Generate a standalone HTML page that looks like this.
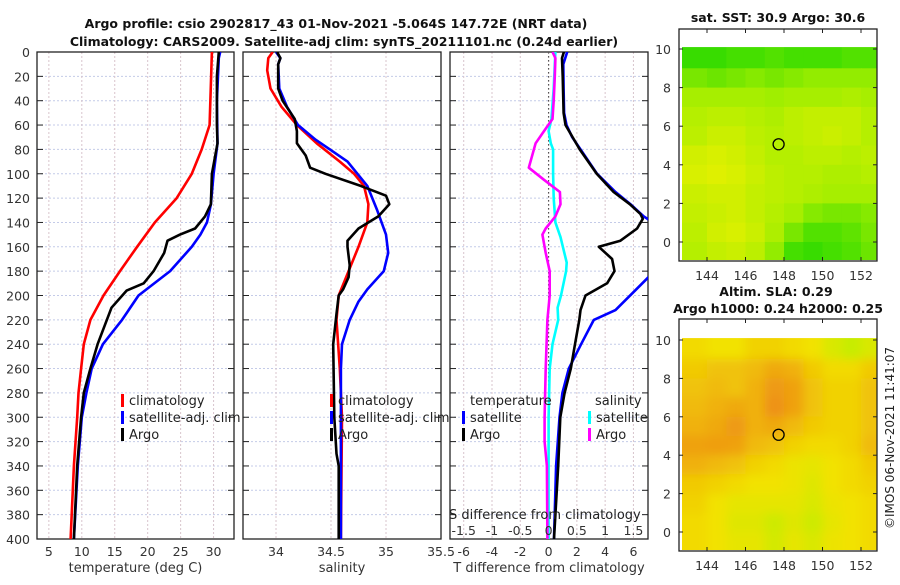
<!DOCTYPE html>
<html><head><meta charset="utf-8"><style>
body{margin:0;background:#fff;width:900px;height:580px;overflow:hidden}
svg{font-family:"DejaVu Sans","Liberation Sans",sans-serif}
</style></head><body>
<svg id="fig" width="900" height="580" viewBox="0 0 900 580" xmlns="http://www.w3.org/2000/svg">
<defs>
<clipPath id="c1"><rect x="37" y="52" width="197" height="487"/></clipPath>
<clipPath id="c2"><rect x="243" y="52" width="198" height="487"/></clipPath>
<clipPath id="c3"><rect x="450" y="52" width="198" height="487"/></clipPath>
<clipPath id="cm1"><rect x="682" y="47" width="195" height="213"/></clipPath>
<clipPath id="cm2"><rect x="682" y="337" width="195" height="213"/></clipPath>
<filter id="bl"><feGaussianBlur stdDeviation="5"/></filter>
</defs>
<g font-weight="bold" font-size="12.5" fill="#111" text-anchor="middle">
<text x="336" y="28">Argo profile: csio 2902817_43 01-Nov-2021 -5.064S 147.72E (NRT data)</text>
<text x="344" y="46">Climatology: CARS2009. Satellite-adj clim: synTS_20211101.nc (0.24d earlier)</text>
<text x="778" y="22">sat. SST: 30.9 Argo: 30.6</text>
<text x="776" y="296">Altim. SLA: 0.29</text>
<text x="778" y="313">Argo h1000: 0.24 h2000: 0.25</text>
</g>
<text transform="translate(894,438) rotate(-90)" text-anchor="middle" font-size="12" fill="#222">©IMOS 06-Nov-2021 11:41:07</text>
<g id="panels"></g>
<g id="maps"></g>
</svg>
<script>
// ---------- profile data ----------
const tClimDepth=[0,60,80,100,120,140,160,180,200,220,240,260,280,300,340,400];
const tClimVal=[29.75,29.4,28.2,26.7,24.4,21.1,18.4,15.8,13.3,11.3,10.3,9.9,9.5,9.3,8.8,8.3];
const tSatDepth=[0,5,40,75,100,125,140,150,160,180,200,220,240,260,280,300,340,400];
const tSatVal=[31.0,30.8,30.5,30.6,30.0,29.6,29.0,28.0,26.7,23.4,18.6,16.1,13.2,11.5,10.7,10.0,9.4,8.8];
const tArgoDepth=[0,20,60,75,100,125,135,145,150,155,165,180,190,196,210,240,260,280,300,340,400];
const tArgoVal=[30.8,30.5,30.5,30.6,29.75,29.6,28.7,27.2,24.9,23.0,22.5,20.9,19.4,16.8,14.5,12.4,11.3,10.3,9.9,9.3,8.8];
const sClimDepth=[0,5,15,30,45,60,75,90,100,110,125,140,160,180,200,220,260,300,400];
const sClimVal=[33.97,33.93,33.92,33.95,34.05,34.19,34.37,34.58,34.71,34.80,34.84,34.83,34.75,34.66,34.57,34.55,34.58,34.60,34.59];
const sSatDepth=[0,5,10,30,45,60,72,80,90,110,130,150,165,180,195,205,220,240,260,400];
const sSatVal=[34.0,34.04,34.02,34.03,34.10,34.20,34.36,34.49,34.65,34.83,34.92,35.0,35.02,34.98,34.83,34.75,34.67,34.60,34.59,34.59];
const sArgoDepth=[0,5,10,30,40,55,65,75,85,95,100,110,118,125,135,145,155,160,175,185,195,200,215,240,300,330,340,400];
const sArgoVal=[34.01,34.04,34.02,34.02,34.06,34.17,34.19,34.19,34.27,34.31,34.45,34.77,35.0,35.03,34.93,34.75,34.65,34.65,34.67,34.66,34.61,34.57,34.55,34.52,34.53,34.55,34.57,34.57];
const dTSatDepth=[0,10,30,50,60,70,80,100,115,125,135,145,160,175,185,212,220,240,260,280,300,340,400];
const dTSatVal=[1.32,1.04,1.06,1.1,1.27,1.67,2.26,3.43,4.73,5.79,6.73,8.0,8.4,7.9,7.06,4.73,3.2,2.3,1.43,0.98,0.77,0.53,0.38];
const dTArgoDepth=[0,5,20,50,60,80,100,115,125,133,137,145,155,160,170,180,190,200,212,220,240,260,280,300,340,400];
const dTArgoVal=[1.08,0.95,1.0,1.06,1.2,2.2,3.4,4.6,5.74,6.49,6.66,6.26,5.08,3.55,4.49,4.66,4.14,2.61,2.26,2.17,1.87,1.57,1.13,0.83,0.68,0.38];
const dSSatDepth=[0,10,30,55,65,75,80,100,120,140,152,173,180,200,210,220,240,260,300,400];
const dSSatVal=[0.12,0.11,0.09,0.05,0.0,0.04,0.08,0.08,0.09,0.12,0.21,0.32,0.31,0.22,0.16,0.17,0.07,0.02,0.0,0.0];
const dSArgoDepth=[0,5,20,40,55,65,75,95,105,115,125,135,145,150,165,180,200,220,260,300,320,340,400];
const dSArgoVal=[0.07,0.12,0.11,0.09,0.07,-0.08,-0.23,-0.35,-0.08,0.2,0.21,0.12,-0.05,-0.11,-0.05,0.02,0.02,-0.02,-0.05,-0.07,-0.07,-0.03,-0.02];
const depthTicks=[0,20,40,60,80,100,120,140,160,180,200,220,240,260,280,300,320,340,360,380,400];
const tTicks=[5,10,15,20,25,30];
const sTicks=[34,34.5,35,35.5];
const dTTicks=[-6,-4,-2,0,2,4,6];
const dSTicks=[-1.5,-1,-0.5,0,0.5,1,1.5];
// ---------- map data (rows lat 10 -> -1, cols lon 143 -> 153) ----------
const mapLonStart=142.85, mapLatTop=10.1;
const sstGrid=[
[0.9,0.9,0.85,0.85,0.8,0.85,0.85,0.85,0.8,0.8],
[0.65,0.7,0.65,0.6,0.65,0.6,0.55,0.55,0.55,0.55],
[0.45,0.45,0.45,0.45,0.5,0.45,0.45,0.45,0.4,0.45],
[0.35,0.3,0.3,0.35,0.4,0.3,0.25,0.25,0.25,0.35],
[0.3,0.2,0.2,0.3,0.35,0.3,0.25,0.2,0.25,0.35],
[0.15,0.1,0.15,0.25,0.35,0.35,0.3,0.3,0.35,0.3],
[0.1,0.05,0.1,0.2,0.3,0.35,0.35,0.4,0.4,0.35],
[0.2,0.15,0.15,0.25,0.3,0.35,0.4,0.45,0.45,0.45],
[0.25,0.2,0.15,0.25,0.35,0.45,0.6,0.65,0.65,0.6],
[0.3,0.15,0.1,0.2,0.4,0.65,0.8,0.8,0.75,0.65],
[0.35,0.25,0.2,0.3,0.55,0.85,0.9,0.85,0.8,0.7]];
const slaGrid=[
[0.55,0.5,0.5,0.6,0.6,0.55,0.5,0.3,0.15,0.3],
[0.65,0.7,0.7,0.75,0.85,0.8,0.65,0.55,0.55,0.65],
[0.7,0.75,0.7,0.8,0.95,0.9,0.7,0.6,0.6,0.7],
[0.75,0.8,0.85,0.8,1.0,0.9,0.7,0.6,0.6,0.7],
[0.8,0.85,0.95,0.8,0.85,0.75,0.65,0.6,0.6,0.7],
[0.9,0.92,0.9,0.75,0.7,0.6,0.55,0.55,0.6,0.75],
[0.8,0.75,0.7,0.6,0.55,0.45,0.4,0.5,0.55,0.65],
[0.65,0.6,0.55,0.5,0.5,0.45,0.35,0.5,0.55,0.6],
[0.6,0.5,0.4,0.4,0.4,0.4,0.3,0.45,0.5,0.55],
[0.55,0.5,0.35,0.35,0.2,0.35,0.2,0.4,0.5,0.55],
[0.55,0.5,0.4,0.4,0.25,0.4,0.3,0.45,0.5,0.55]];
const mapLonTicks=[144,146,148,150,152];
const mapLatTicks=[0,2,4,6,8,10];
const argoLon=147.72, argoLat=5.064;

const NS="http://www.w3.org/2000/svg";
function mk(tag,attrs,parent){const e=document.createElementNS(NS,tag);for(const k in attrs)e.setAttribute(k,attrs[k]);parent.appendChild(e);return e;}
const P=document.getElementById('panels');
const Y0=52,Y1=539;
const yD=d=>Y0+(d/400)*(Y1-Y0);

function panel(name,x0,x1,dom,ticks,clip,xlabel,showY){
  const g=mk('g',{},P);
  
  
  const sx=v=>x0+(v-dom[0])/(dom[1]-dom[0])*(x1-x0);
  depthTicks.forEach(d=>{const l=mk('line',{x1:x0,x2:x1,y1:yD(d),y2:yD(d),stroke:'#c4cbe8','stroke-width':1,'stroke-dasharray':'2,2'},g);
    });
  ticks.forEach(t=>{const l=mk('line',{x1:sx(t),x2:sx(t),y1:Y0,y2:Y1,stroke:'#d8c4cc','stroke-width':1,'stroke-dasharray':'2,2'},g);
    
    const tx=mk('text',{x:sx(t),y:556,'text-anchor':'middle','font-size':12.5,fill:'#333'},g);tx.textContent=String(t);
    });
  depthTicks.forEach(d=>{mk('line',{x1:x0,x2:x0+6,y1:yD(d),y2:yD(d),stroke:'#222'},g);mk('line',{x1:x1-6,x2:x1,y1:yD(d),y2:yD(d),stroke:'#222'},g);
    if(showY){const tx=mk('text',{x:30,y:yD(d)+5,'text-anchor':'end','font-size':12.5,fill:'#333'},g);tx.textContent=String(d);
      }});
  const fr=mk('rect',{x:x0,y:Y0,width:x1-x0,height:Y1-Y0,fill:'none',stroke:'#222','stroke-width':1.3},g);
  
  const xl=mk('text',{x:(x0+x1)/2,y:572,'text-anchor':'middle','font-size':13,fill:'#333'},g);xl.textContent=xlabel;
  
  return {g,sx,clip};
}
function series(pn,name,depths,vals,color,sxf){
  const f=sxf||pn.sx;
  const pts=depths.map((d,i)=>f(vals[i]).toFixed(1)+','+yD(d).toFixed(1)).join(' ');
  const pl=mk('polyline',{points:pts,fill:'none',stroke:color,'stroke-width':2.6,'stroke-linejoin':'round','clip-path':'url(#'+pn.clip+')'},pn.g);
  
  
}
function legend(pn,x,y,color,label,name){
  if(color){const r=mk('rect',{x:x-8,y:y-11,width:3,height:13,fill:color},pn.g);
    }
  const t=mk('text',{x:x,y:y,'font-size':13,fill:'#222'},pn.g);t.textContent=label;
  
}
const p1=panel('temperature-panel',37,234,[3.2,33.1],tTicks,'c1','temperature (deg C)',true);
series(p1,'temp-climatology-line',tClimDepth,tClimVal,'#f00');
series(p1,'temp-satellite-line',tSatDepth,tSatVal,'#00f');
series(p1,'temp-argo-line',tArgoDepth,tArgoVal,'#000');
legend(p1,129,405,'#f00','climatology','legend-entry-climatology');
legend(p1,129,422,'#00f','satellite-adj. clim','legend-entry-satellite');
legend(p1,129,439,'#000','Argo','legend-entry-argo');

const p2=panel('salinity-panel',243,441,[33.7,35.5],sTicks,'c2','salinity',false);
series(p2,'sal-climatology-line',sClimDepth,sClimVal,'#f00');
series(p2,'sal-satellite-line',sSatDepth,sSatVal,'#00f');
series(p2,'sal-argo-line',sArgoDepth,sArgoVal,'#000');
legend(p2,338,405,'#f00','climatology','legend-entry-climatology');
legend(p2,338,422,'#00f','satellite-adj. clim','legend-entry-satellite');
legend(p2,338,439,'#000','Argo','legend-entry-argo');

const p3=panel('difference-panel',450,648,[-6.97,7.03],dTTicks,'c3','T difference from climatology',false);
const sxS=v=>p3.sx(v*4);
const z=mk('line',{x1:p3.sx(0),x2:p3.sx(0),y1:Y0,y2:Y1,stroke:'#555','stroke-width':1.2,'stroke-dasharray':'1.5,2.5'},p3.g);

series(p3,'tdiff-satellite-line',dTSatDepth,dTSatVal,'#00f');
series(p3,'tdiff-argo-line',dTArgoDepth,dTArgoVal,'#000');
series(p3,'sdiff-satellite-line',dSSatDepth,dSSatVal,'#0ff',sxS);
series(p3,'sdiff-argo-line',dSArgoDepth,dSArgoVal,'#f0f',sxS);
legend(p3,470,405,null,'temperature','legend-title-temperature');
legend(p3,470,422,'#00f','satellite','legend-entry-t-satellite');
legend(p3,470,439,'#000','Argo','legend-entry-t-argo');
legend(p3,595,405,null,'salinity','legend-title-salinity');
legend(p3,596,422,'#0ff','satellite','legend-entry-s-satellite');
legend(p3,596,439,'#f0f','Argo','legend-entry-s-argo');
const st=mk('text',{x:449,y:519,'font-size':13,fill:'#222'},p3.g);st.textContent='S difference from climatology';

dSTicks.forEach(t=>{const tx=mk('text',{x:sxS(t),y:535,'text-anchor':'middle','font-size':12.5,fill:'#333'},p3.g);tx.textContent=String(t);
  });

// ---------- maps ----------
const M=document.getElementById('maps');
function lerp(a,b,t){return a.map((v,i)=>Math.round(v+(b[i]-v)*t));}
function sstColor(v){return v<0.5?'rgb('+lerp([230,240,0],[160,238,0],v*2).join(',')+')':'rgb('+lerp([160,238,0],[30,216,0],(v-0.5)*2).join(',')+')';}
function slaColor(v){return v<0.5?'rgb('+lerp([180,240,0],[242,226,0],v*2).join(',')+')':'rgb('+lerp([242,226,0],[238,145,20],(v-0.5)*2).join(',')+')';}
function mapPanel(name,bx0,by0,bx1,by1,ylat0,ylat10,grid,colf,clip,blur){
  const g=mk('g',{},M);
  
  
  const sx=lon=>707+(lon-144)*19.25;
  const sy=lat=>ylat0+(ylat10-ylat0)*lat/10;
  const cg=mk('g',{'clip-path':'url(#'+clip+')'},g);
  const ig=mk('g',blur?{filter:'url(#bl)'}:{},cg);
  grid.forEach((row,r)=>row.forEach((v,c)=>{
    const lon=143+c, lat=10-r;
    const x=sx(lon-(c===0?2:0)), w=sx(lon+1+(c===row.length-1?2:0))-x;
    const y=sy(lat+(r===0?1:0)), h=sy(lat-1-(r===grid.length-1?2:0))-y;
    const cell=mk('rect',{x:x.toFixed(1),y:y.toFixed(1),width:(w+0.6).toFixed(1),height:(h+0.6).toFixed(1),fill:colf(v)},ig);
    
    
  }));
  mk('rect',{x:bx0,y:by0,width:bx1-bx0,height:sy(mapLatTop)-by0,fill:'#fff'},g);
  mk('rect',{x:bx0,y:by0,width:bx1-bx0,height:by1-by0,fill:'none',stroke:'#222','stroke-width':1.3},g);
  mapLonTicks.forEach(t=>{mk('line',{x1:sx(t),x2:sx(t),y1:by1,y2:by1-4,stroke:'#222'},g);mk('line',{x1:sx(t),x2:sx(t),y1:by0,y2:by0+4,stroke:'#222'},g);
    const tx=mk('text',{x:sx(t),y:by1+19,'text-anchor':'middle','font-size':12.5,fill:'#333'},g);tx.textContent=String(t);
    });
  mapLatTicks.forEach(t=>{mk('line',{x1:bx0,x2:bx0+4,y1:sy(t),y2:sy(t),stroke:'#222'},g);mk('line',{x1:bx1,x2:bx1-4,y1:sy(t),y2:sy(t),stroke:'#222'},g);
    const tx=mk('text',{x:bx0-8,y:sy(t)+5,'text-anchor':'end','font-size':12.5,fill:'#333'},g);tx.textContent=String(t);
    });
  const c=mk('circle',{cx:sx(argoLon),cy:sy(argoLat),r:5.5,fill:'none',stroke:'#000','stroke-width':1.3},g);
  
}
mapPanel('sst-map',679,29,877,261,242,49,sstGrid,sstColor,'cm1',false);
mapPanel('sla-map',679,319,877,551,532,340,slaGrid,slaColor,'cm2',true);
</script>
</body></html>
